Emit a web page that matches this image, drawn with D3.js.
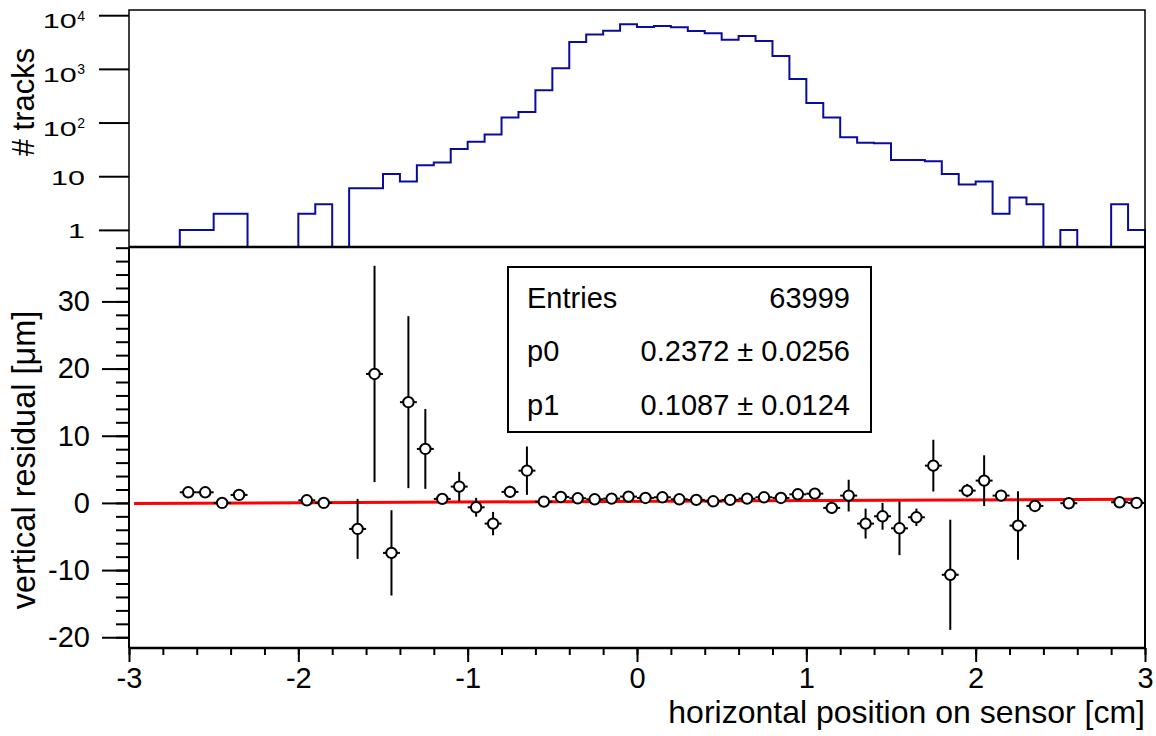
<!DOCTYPE html>
<html>
<head>
<meta charset="utf-8">
<script src="https://cdn.jsdelivr.net/npm/d3@7"></script>
<style>
  body { margin: 0; background: #fff; }
  svg text { font-family: "Liberation Sans", Arial, Helvetica, sans-serif; fill: #000; }
</style>
</head>
<body>
<div id="graph"></div>
<script>
const svgw = 1156
const svgh = 736

// histogram of track positions, 60 bins of 0.1 cm from -3 to 3
const histLow = -3
const binWidth = 0.1
const trackCounts = [0, 0, 0, 1, 1, 2, 2, 0, 0, 0,
    2, 3, 0, 6, 6, 11, 8, 16, 18, 32,
    44, 60, 124, 157, 400, 1025, 3170, 4390, 5140, 6780,
    6030, 6300, 5960, 5080, 4590, 3500, 4100, 3310, 1740, 650,
    232, 124, 53, 42, 41, 20, 20, 19, 11, 7,
    8, 2, 4, 3, 0, 1, 0, 0, 3, 1]

// profile of vertical residuals
const resX = [-2.65, -2.55, -2.45, -2.35, -1.95, -1.85, -1.65, -1.55, -1.45, -1.35,
    -1.25, -1.15, -1.05, -0.95, -0.85, -0.75, -0.65, -0.55, -0.45, -0.35,
    -0.25, -0.15, -0.05, 0.05, 0.15, 0.25, 0.35, 0.45, 0.55, 0.65,
    0.75, 0.85, 0.95, 1.05, 1.15, 1.25, 1.35, 1.45, 1.55, 1.65,
    1.75, 1.85, 1.95, 2.05, 2.15, 2.25, 2.35, 2.55, 2.85, 2.95]
const resY = [1.58, 1.58, 0.0, 1.19, 0.39, 0.0, -3.87, 19.2, -7.44, 15.0,
    8.04, 0.6, 2.43, -0.65, -3.08, 1.64, 4.8, 0.19, 0.89, 0.69,
    0.54, 0.64, 0.94, 0.74, 0.84, 0.54, 0.45, 0.24, 0.45, 0.64,
    0.84, 0.74, 1.28, 1.38, -0.74, 1.09, -3.08, -1.99, -3.78, -2.14,
    5.55, -10.7, 1.83, 3.32, 1.09, -3.38, -0.45, -0.05, 0.1, 0.0]
const resErr = [0, 0, 0, 0, 0, 0, 4.47, 16.1, 6.35, 12.8,
    5.95, 0.6, 2.2, 1.4, 1.74, 0.9, 3.6, 0.6, 0.4, 0.3,
    0.2, 0.2, 0.2, 0.2, 0.2, 0.2, 0.2, 0.2, 0.3, 0.2,
    0.3, 0.4, 0.6, 0.8, 0.9, 2.36, 2.23, 2.0, 4.0, 1.3,
    3.85, 8.2, 1.0, 3.77, 0.8, 5.1, 0.6, 0, 0, 0]

// linear fit p0 + p1*x
const fitP0 = 0.2372
const fitP1 = 0.1087
const fitRange = [-2.97, 2.97]
const statsRows = [
    ['Entries', '63999'],
    ['p0', '0.2372 \u00b1 0.0256'],
    ['p1', '0.1087 \u00b1 0.0124']
]

const topTicks = [1, 10, 100, 1000, 10000]
const resTicks = [-20, -10, 0, 10, 20, 30]
const posTicks = [-3, -2, -1, 0, 1, 2, 3]

const left = 129, right = 1145
const topY0 = 10, split = 247, bottom = 648

const svg = d3.select('#graph')
    .append('svg')
    .attr('width', svgw)
    .attr('height', svgh)

const xScale = d3.scaleLinear().domain([-3, 3]).range([left, right])
const yTop = d3.scaleLog().domain([0.48, 12500]).range([split, topY0])
const yBot = d3.scaleLinear().domain([-21.6, 38.1]).range([bottom, split])

// ---------- top pad ----------
const histPts = trackCounts.map((c, i) => [histLow + i * binWidth, c > 0 ? c : yTop.domain()[0]])
histPts.push([3, yTop.domain()[0]])

svg.append('path')
    .attr('d', d3.line()
        .x(d => xScale(d[0]))
        .y(d => yTop(d[1]))
        .curve(d3.curveStepAfter)(histPts))
    .attr('fill', 'none')
    .attr('stroke', '#0c0c9c')
    .attr('stroke-width', 2)

const topAxis = svg.append('g')
    .attr('transform', `translate(${left},0)`)
    .call(d3.axisLeft(yTop).tickValues(topTicks).tickSize(30).tickFormat(''))
topAxis.select('.domain').remove()
topAxis.selectAll('.tick line').attr('stroke-width', 2)

// labels in the top pad look stretched sideways, like the original
topTicks.forEach(v => {
    const e = Math.round(Math.log10(v))
    const y = yTop(v)
    let endX = 85
    let base = y + 8.5
    if (e >= 2) {
        const sup = svg.append('text')
            .attr('x', 85)
            .attr('y', y + 5.5)
            .attr('text-anchor', 'end')
            .style('font-size', '14px')
            .text(String(e))
        endX = 85 - sup.node().getComputedTextLength() - 0.5
        base = y + 13
    }
    const t = svg.append('text')
        .attr('y', base)
        .style('font-size', '21px')
        .text(e >= 2 ? '10' : String(v))
    const w = t.node().getComputedTextLength() * 1.45
    t.attr('x', endX - w)
        .attr('textLength', w)
        .attr('lengthAdjust', 'spacingAndGlyphs')
})

svg.append('text')
    .attr('transform', `translate(34,102) rotate(-90)`)
    .attr('text-anchor', 'middle')
    .style('font-size', '31px')
    .text('# tracks')

svg.append('rect')
    .attr('x', left).attr('y', topY0)
    .attr('width', right - left).attr('height', split - topY0)
    .attr('fill', 'none')
    .attr('stroke', '#000')
    .attr('stroke-width', 1.5)

// ---------- bottom pad ----------
svg.append('line')
    .attr('x1', xScale(fitRange[0]))
    .attr('x2', xScale(fitRange[1]))
    .attr('y1', yBot(fitP0 + fitP1 * fitRange[0]))
    .attr('y2', yBot(fitP0 + fitP1 * fitRange[1]))
    .attr('stroke', '#ff0000')
    .attr('stroke-width', 3)

const pts = svg.append('g')
    .selectAll('g')
    .data(resX.map((x, i) => ({ x: x, y: resY[i], e: resErr[i] })))
    .enter()
    .append('g')

pts.append('line')
    .attr('x1', d => xScale(d.x)).attr('x2', d => xScale(d.x))
    .attr('y1', d => yBot(d.y + d.e)).attr('y2', d => yBot(d.y - d.e))
    .attr('stroke', '#000').attr('stroke-width', 2)
pts.append('line')
    .attr('x1', d => xScale(d.x - binWidth / 2)).attr('x2', d => xScale(d.x + binWidth / 2))
    .attr('y1', d => yBot(d.y)).attr('y2', d => yBot(d.y))
    .attr('stroke', '#000').attr('stroke-width', 2)
pts.append('circle')
    .attr('cx', d => xScale(d.x))
    .attr('cy', d => yBot(d.y))
    .attr('r', 5.2)
    .attr('fill', '#fff')
    .attr('stroke', '#000')
    .attr('stroke-width', 2)

// y axis of residuals
const yMinor = svg.append('g')
    .attr('transform', `translate(${left},0)`)
    .call(d3.axisLeft(yBot).tickValues(d3.range(-20, 39, 2)).tickSize(13).tickFormat(''))
yMinor.select('.domain').remove()
yMinor.selectAll('.tick line').attr('stroke-width', 2)

const yMajor = svg.append('g')
    .attr('transform', `translate(${left},0)`)
    .call(d3.axisLeft(yBot).tickValues(resTicks).tickSize(27).tickPadding(12))
yMajor.select('.domain').remove()
yMajor.selectAll('.tick line').attr('stroke-width', 2)
yMajor.selectAll('text')
    .style('font-size', '29px')
    .style('font-family', '"Liberation Sans", Arial, sans-serif')
    .text(d => String(d))

// x axis
const xMinor = svg.append('g')
    .attr('transform', `translate(0,${bottom})`)
    .call(d3.axisBottom(xScale).tickValues(d3.range(-3, 3.01, 0.2)).tickSize(7).tickFormat(''))
xMinor.select('.domain').remove()
xMinor.selectAll('.tick line').attr('stroke-width', 2)

const xMajor = svg.append('g')
    .attr('transform', `translate(0,${bottom})`)
    .call(d3.axisBottom(xScale).tickValues(posTicks).tickSize(14).tickPadding(5))
xMajor.select('.domain').remove()
xMajor.selectAll('.tick line').attr('stroke-width', 2)
xMajor.selectAll('text')
    .style('font-size', '29px')
    .style('font-family', '"Liberation Sans", Arial, sans-serif')
    .text(d => String(d))

svg.append('line')
    .attr('x1', left).attr('x2', right)
    .attr('y1', bottom).attr('y2', bottom)
    .attr('stroke', '#000').attr('stroke-width', 2.5)
svg.append('line')
    .attr('x1', left).attr('x2', left)
    .attr('y1', split).attr('y2', bottom)
    .attr('stroke', '#000').attr('stroke-width', 2)
svg.append('line')
    .attr('x1', right).attr('x2', right)
    .attr('y1', split).attr('y2', bottom)
    .attr('stroke', '#000').attr('stroke-width', 2)
svg.append('line')
    .attr('x1', left).attr('x2', right)
    .attr('y1', split).attr('y2', split)
    .attr('stroke', '#000').attr('stroke-width', 2.5)

svg.append('text')
    .attr('transform', `translate(35,460) rotate(-90)`)
    .attr('text-anchor', 'middle')
    .style('font-size', '32.5px')
    .text('vertical residual [\u03bcm]')

svg.append('text')
    .attr('x', right)
    .attr('y', 723)
    .attr('text-anchor', 'end')
    .style('font-size', '32px')
    .text('horizontal position on sensor [cm]')

// stats box
const box = svg.append('g')
box.append('rect')
    .attr('x', 508).attr('y', 267)
    .attr('width', 363).attr('height', 165)
    .attr('fill', '#fff')
    .attr('stroke', '#000')
    .attr('stroke-width', 2)
statsRows.forEach((r, i) => {
    box.append('text')
        .attr('x', 527).attr('y', 308 + i * 53.3)
        .style('font-size', '29px')
        .text(r[0])
    box.append('text')
        .attr('x', 850).attr('y', 308 + i * 53.3)
        .attr('text-anchor', 'end')
        .style('font-size', '29px')
        .text(r[1])
})
</script>
</body>
</html>
